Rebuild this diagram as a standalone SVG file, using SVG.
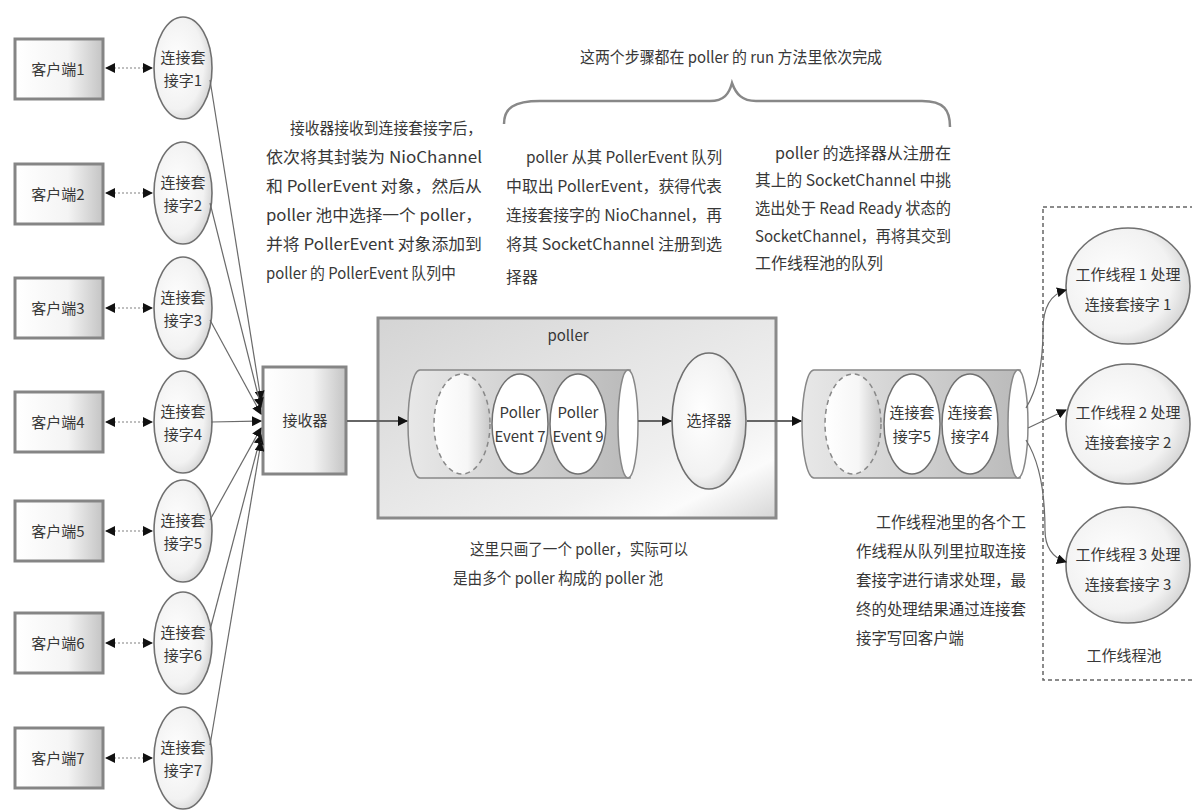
<svg xmlns="http://www.w3.org/2000/svg" width="1192" height="811" viewBox="0 0 1192 811">
<defs>
<style>
.t{font-family:"Noto Sans CJK SC","Liberation Sans",sans-serif;font-size:16px;fill:#383838;}
.tc{font-family:"Noto Sans CJK SC","Liberation Sans",sans-serif;font-size:15px;fill:#383838;text-anchor:middle;}
.box{fill:url(#gBox);stroke:#858585;stroke-width:3;}
.sock{fill:url(#gEll);stroke:#707070;stroke-width:1.6;}
.ln{fill:none;stroke:#6a6a6a;stroke-width:1.2;}
.dot{fill:none;stroke:#aaa;stroke-width:1.5;stroke-dasharray:2,2;}
.ar{fill:none;stroke:#666;stroke-width:2;}
</style>
<linearGradient id="gBox" x1="0" y1="0" x2="1" y2="0">
<stop offset="0" stop-color="#ffffff"/><stop offset="0.6" stop-color="#f4f4f4"/><stop offset="1" stop-color="#c4c4c4"/>
</linearGradient>
<radialGradient id="gEll" cx="0.4" cy="0.45" r="0.65">
<stop offset="0" stop-color="#ffffff"/><stop offset="0.7" stop-color="#f2f2f2"/><stop offset="1" stop-color="#cfcfcf"/>
</radialGradient>
<linearGradient id="gPoller" x1="0" y1="0" x2="1" y2="1">
<stop offset="0" stop-color="#d4d4d4"/><stop offset="0.7" stop-color="#f0f0f0"/><stop offset="0.85" stop-color="#fbfbfb"/><stop offset="1" stop-color="#d6d6d6"/>
</linearGradient>
<linearGradient id="gCyl" x1="0" y1="0" x2="1" y2="0">
<stop offset="0" stop-color="#e8e8e8"/><stop offset="1" stop-color="#bababa"/>
</linearGradient>
<linearGradient id="gDash" x1="0" y1="0" x2="1" y2="0">
<stop offset="0" stop-color="#ffffff"/><stop offset="0.6" stop-color="#f6f6f6"/><stop offset="1" stop-color="#c8c8c8"/>
</linearGradient>
<marker id="ah" viewBox="0 0 10 10" refX="9" refY="5" markerWidth="10" markerHeight="10" markerUnits="userSpaceOnUse" orient="auto-start-reverse">
<path d="M0,0 L10,5 L0,10 z" fill="#111"/>
</marker>
</defs>
<rect width="1192" height="811" fill="#ffffff"/>

<!-- clients -->
<g id="client1"><rect class="box" x="15" y="39" width="88" height="60"/><text class="tc" x="58" y="75">客户端1</text></g>
<g id="client2"><rect class="box" x="15" y="164" width="88" height="60"/><text class="tc" x="58" y="200">客户端2</text></g>
<g id="client3"><rect class="box" x="15" y="278" width="88" height="60"/><text class="tc" x="58" y="314">客户端3</text></g>
<g id="client4"><rect class="box" x="15" y="392" width="88" height="60"/><text class="tc" x="58" y="428">客户端4</text></g>
<g id="client5"><rect class="box" x="15" y="501" width="88" height="60"/><text class="tc" x="58" y="537">客户端5</text></g>
<g id="client6"><rect class="box" x="15" y="613" width="88" height="60"/><text class="tc" x="58" y="649">客户端6</text></g>
<g id="client7"><rect class="box" x="15" y="728" width="88" height="60"/><text class="tc" x="58" y="764">客户端7</text></g>

<!-- sockets -->
<g id="socket1"><ellipse class="sock" cx="183" cy="68" rx="29" ry="51"/><text class="tc" x="183" y="63">连接套</text><text class="tc" x="183" y="86">接字1</text></g>
<g id="socket2"><ellipse class="sock" cx="183" cy="193" rx="29" ry="51"/><text class="tc" x="183" y="188">连接套</text><text class="tc" x="183" y="211">接字2</text></g>
<g id="socket3"><ellipse class="sock" cx="183" cy="308" rx="29" ry="51"/><text class="tc" x="183" y="303">连接套</text><text class="tc" x="183" y="326">接字3</text></g>
<g id="socket4"><ellipse class="sock" cx="183" cy="422" rx="29" ry="51"/><text class="tc" x="183" y="417">连接套</text><text class="tc" x="183" y="440">接字4</text></g>
<g id="socket5"><ellipse class="sock" cx="183" cy="531" rx="29" ry="51"/><text class="tc" x="183" y="526">连接套</text><text class="tc" x="183" y="549">接字5</text></g>
<g id="socket6"><ellipse class="sock" cx="183" cy="643" rx="29" ry="51"/><text class="tc" x="183" y="638">连接套</text><text class="tc" x="183" y="661">接字6</text></g>
<g id="socket7"><ellipse class="sock" cx="183" cy="758" rx="29" ry="51"/><text class="tc" x="183" y="753">连接套</text><text class="tc" x="183" y="776">接字7</text></g>

<!-- acceptor -->
<g id="acceptor"><rect class="box" x="263" y="367" width="83" height="107"/><text class="tc" x="305" y="426">接收器</text></g>

<!-- poller -->
<g id="poller">
<rect x="378" y="318" width="398" height="200" fill="url(#gPoller)" stroke="#8a8a8a" stroke-width="3"/>
<text class="tc" x="568" y="341">poller</text>
</g>
<g id="queue1">
<path d="M420,370 L630,370 L630,478 L420,478 A12,54 0 0 1 420,370 z" fill="url(#gCyl)" stroke="#888" stroke-width="1.5"/>
<ellipse cx="628" cy="424" rx="10" ry="54" fill="#fff" stroke="#888" stroke-width="1.5"/>
<ellipse cx="462" cy="424" rx="28" ry="50" fill="url(#gDash)" stroke="#888" stroke-width="1.5" stroke-dasharray="5,4"/>
</g>
<g id="event7"><ellipse cx="520" cy="424" rx="28" ry="50" fill="#fff" stroke="#707070" stroke-width="1.5"/><text class="tc" x="520" y="418">Poller</text><text class="tc" x="520" y="442">Event 7</text></g>
<g id="event9"><ellipse cx="578" cy="424" rx="28" ry="50" fill="#fff" stroke="#707070" stroke-width="1.5"/><text class="tc" x="578" y="418">Poller</text><text class="tc" x="578" y="442">Event 9</text></g>
<g id="selector"><ellipse class="sock" cx="709" cy="421" rx="37" ry="68"/><text class="tc" x="709" y="426">选择器</text></g>

<!-- queue 2 -->
<g id="queue2">
<path d="M814,370 L1020,370 L1020,478 L814,478 A12,54 0 0 1 814,370 z" fill="url(#gCyl)" stroke="#888" stroke-width="1.5"/>
<ellipse cx="1018" cy="424" rx="10" ry="54" fill="#fff" stroke="#888" stroke-width="1.5"/>
<ellipse cx="853" cy="424" rx="28" ry="50" fill="url(#gDash)" stroke="#888" stroke-width="1.5" stroke-dasharray="5,4"/>
</g>
<g id="qsock5"><ellipse cx="912" cy="424" rx="28" ry="50" fill="#fff" stroke="#707070" stroke-width="1.5"/><text class="tc" x="912" y="418">连接套</text><text class="tc" x="912" y="442">接字5</text></g>
<g id="qsock4"><ellipse cx="970" cy="424" rx="28" ry="50" fill="#fff" stroke="#707070" stroke-width="1.5"/><text class="tc" x="970" y="418">连接套</text><text class="tc" x="970" y="442">接字4</text></g>

<!-- worker pool -->
<g id="workerpool">
<rect x="1043" y="207" width="160" height="473" fill="none" stroke="#666" stroke-width="1.5" stroke-dasharray="4,3"/>
<text class="tc" x="1124" y="661">工作线程池</text>
</g>
<g id="worker1"><ellipse class="sock" cx="1128" cy="286" rx="62" ry="58"/><text class="tc" x="1128" y="280">工作线程 1 处理</text><text class="tc" x="1128" y="310">连接套接字 1</text></g>
<g id="worker2"><ellipse class="sock" cx="1128" cy="424" rx="62" ry="60"/><text class="tc" x="1128" y="418">工作线程 2 处理</text><text class="tc" x="1128" y="448">连接套接字 2</text></g>
<g id="worker3"><ellipse class="sock" cx="1128" cy="565" rx="62" ry="58"/><text class="tc" x="1128" y="560">工作线程 3 处理</text><text class="tc" x="1128" y="590">连接套接字 3</text></g>

<!-- connectors -->
<g id="connectors">
<line class="dot" x1="106" y1="68" x2="152" y2="68" marker-start="url(#ah)" marker-end="url(#ah)"/>
<line class="dot" x1="106" y1="193" x2="152" y2="193" marker-start="url(#ah)" marker-end="url(#ah)"/>
<line class="dot" x1="106" y1="308" x2="152" y2="308" marker-start="url(#ah)" marker-end="url(#ah)"/>
<line class="dot" x1="106" y1="422" x2="152" y2="422" marker-start="url(#ah)" marker-end="url(#ah)"/>
<line class="dot" x1="106" y1="531" x2="152" y2="531" marker-start="url(#ah)" marker-end="url(#ah)"/>
<line class="dot" x1="106" y1="643" x2="152" y2="643" marker-start="url(#ah)" marker-end="url(#ah)"/>
<line class="dot" x1="106" y1="758" x2="152" y2="758" marker-start="url(#ah)" marker-end="url(#ah)"/>

<line class="ln" x1="210" y1="80" x2="261" y2="400" marker-end="url(#ah)"/>
<line class="ln" x1="210" y1="203" x2="261" y2="407" marker-end="url(#ah)"/>
<line class="ln" x1="210" y1="320" x2="261" y2="414" marker-end="url(#ah)"/>
<line class="ln" x1="211" y1="422" x2="261" y2="421" marker-end="url(#ah)"/>
<line class="ln" x1="210" y1="520" x2="261" y2="428" marker-end="url(#ah)"/>
<line class="ln" x1="210" y1="630" x2="261" y2="435" marker-end="url(#ah)"/>
<line class="ln" x1="210" y1="745" x2="261" y2="442" marker-end="url(#ah)"/>

<line class="ar" x1="347" y1="421" x2="407" y2="421" marker-end="url(#ah)"/>
<line class="ar" x1="638" y1="421" x2="671" y2="421" marker-end="url(#ah)"/>
<line class="ar" x1="747" y1="421" x2="801" y2="421" marker-end="url(#ah)"/>

<path class="ln" d="M1026,408 Q1043,380 1043,330 Q1043,296 1066,290" marker-end="url(#ah)"/>
<path class="ln" d="M1028,428 L1066,410" marker-end="url(#ah)"/>
<path class="ln" d="M1026,440 Q1045,470 1045,530 Q1045,555 1066,562" marker-end="url(#ah)"/>

<path d="M504,124 C504,108 514,101 540,101 L710,101 C724,101 729,94 732,83 C736,94 742,101 756,101 L922,101 C944,101 950,110 950,127" fill="none" stroke="#888" stroke-width="2.5"/>
</g>

<!-- annotations -->
<g id="notes">
<text class="t" x="580" y="63" textLength="302" lengthAdjust="spacingAndGlyphs">这两个步骤都在 poller 的 run 方法里依次完成</text>

<text class="t" x="290" y="134" textLength="192" lengthAdjust="spacingAndGlyphs">接收器接收到连接套接字后，</text>
<text class="t" x="266" y="163" textLength="216" lengthAdjust="spacingAndGlyphs">依次将其封装为 NioChannel</text>
<text class="t" x="266" y="192" textLength="216" lengthAdjust="spacingAndGlyphs">和 PollerEvent 对象，然后从</text>
<text class="t" x="266" y="221" textLength="216" lengthAdjust="spacingAndGlyphs">poller 池中选择一个 poller，</text>
<text class="t" x="266" y="250" textLength="216" lengthAdjust="spacingAndGlyphs">并将 PollerEvent 对象添加到</text>
<text class="t" x="266" y="279" textLength="190" lengthAdjust="spacingAndGlyphs">poller 的 PollerEvent 队列中</text>

<text class="t" x="526" y="163" textLength="196" lengthAdjust="spacingAndGlyphs">poller 从其 PollerEvent 队列</text>
<text class="t" x="506" y="192" textLength="216" lengthAdjust="spacingAndGlyphs">中取出 PollerEvent，获得代表</text>
<text class="t" x="506" y="221" textLength="216" lengthAdjust="spacingAndGlyphs">连接套接字的 NioChannel，再</text>
<text class="t" x="506" y="250" textLength="216" lengthAdjust="spacingAndGlyphs">将其 SocketChannel 注册到选</text>
<text class="t" x="506" y="283" textLength="32" lengthAdjust="spacingAndGlyphs">择器</text>

<text class="t" x="775" y="159" textLength="176" lengthAdjust="spacingAndGlyphs">poller 的选择器从注册在</text>
<text class="t" x="755" y="186" textLength="196" lengthAdjust="spacingAndGlyphs">其上的 SocketChannel 中挑</text>
<text class="t" x="755" y="214" textLength="196" lengthAdjust="spacingAndGlyphs">选出处于 Read Ready 状态的</text>
<text class="t" x="755" y="242" textLength="196" lengthAdjust="spacingAndGlyphs">SocketChannel，再将其交到</text>
<text class="t" x="755" y="269" textLength="128" lengthAdjust="spacingAndGlyphs">工作线程池的队列</text>

<text class="t" x="470" y="555" textLength="218" lengthAdjust="spacingAndGlyphs">这里只画了一个 poller，实际可以</text>
<text class="t" x="453" y="584" textLength="210" lengthAdjust="spacingAndGlyphs">是由多个 poller 构成的 poller 池</text>

<text class="t" x="876" y="528" textLength="150" lengthAdjust="spacingAndGlyphs">工作线程池里的各个工</text>
<text class="t" x="856" y="557" textLength="170" lengthAdjust="spacingAndGlyphs">作线程从队列里拉取连接</text>
<text class="t" x="856" y="586" textLength="170" lengthAdjust="spacingAndGlyphs">套接字进行请求处理，最</text>
<text class="t" x="856" y="615" textLength="170" lengthAdjust="spacingAndGlyphs">终的处理结果通过连接套</text>
<text class="t" x="856" y="644" textLength="108" lengthAdjust="spacingAndGlyphs">接字写回客户端</text>
</g>
</svg>
